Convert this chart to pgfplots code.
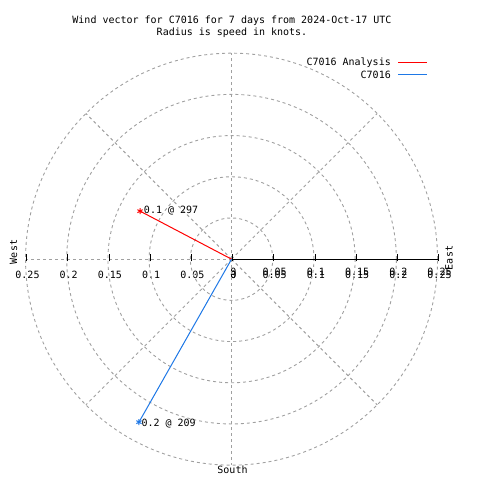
\documentclass[border=0pt]{standalone}
\usepackage{fontspec}
\setmainfont{DejaVu Sans Mono}
\usepackage{pgfplots}
\pgfplotsset{compat=1.18}
\definecolor{gridgray}{RGB}{160,160,160}
\definecolor{vblue}{RGB}{30,120,230}
\begin{document}
\fontsize{10}{12}\selectfont
\begin{tikzpicture}[x=1pt,y=1pt]
\useasboundingbox (0,0) rectangle (480,480);
% tick labels
\foreach \v/\t in {0/0,1/0.05,2/0.1,3/0.15,4/0.2,5/0.25} {
  \node[inner sep=0pt] at (233.5-41.2*\v,205) {\t};
  \node[inner sep=0pt] at (233.5+41.2*\v,205) {\t};
  \node[inner sep=0pt] at (233.5+41.2*\v,208.5) {\t};
}
\node[rotate=90, inner sep=0pt] at (13.5,228) {West};
\node[rotate=90, inner sep=0pt] at (449,222) {East};
\node[inner sep=0pt] at (232.5,10) {South};
% title
\node[inner sep=0pt] at (232,459.5) {Wind vector for C7016 for 7 days from 2024-Oct-17 UTC};
\node[inner sep=0pt] at (232,447) {Radius is speed in knots.};
% legend
\node[anchor=east, inner sep=0pt] at (391,417) {C7016 Analysis};
\node[anchor=east, inner sep=0pt] at (391,405) {C7016};
\draw[red, line width=1pt] (398,417) -- (427,417);
\draw[vblue, line width=1pt] (398,405) -- (427,405);
\begin{axis}[at={(31,18)}, anchor=south west, x=824pt, y=824pt,
  xmin=-0.25, xmax=0.25, ymin=-0.25, ymax=0.25, enlargelimits=false,
  hide axis, clip=false]
% polar grid
\begin{scope}[gridgray, line width=0.9pt, dash pattern=on 3pt off 3pt]
\draw (axis cs:0,0) circle[radius=41.2pt];
\draw (axis cs:0,0) circle[radius=82.4pt];
\draw (axis cs:0,0) circle[radius=123.6pt];
\draw (axis cs:0,0) circle[radius=164.8pt];
\draw (axis cs:0,0) circle[radius=206pt];
\draw (axis cs:0,0) -- (axis cs:0.17678,0.17678);
\draw (axis cs:0,0) -- (axis cs:0,0.25);
\draw (axis cs:0,0) -- (axis cs:-0.17678,0.17678);
\draw (axis cs:0,0) -- (axis cs:-0.25,0);
\draw (axis cs:0,0) -- (axis cs:-0.17678,-0.17678);
\draw (axis cs:0,0) -- (axis cs:0,-0.25);
\draw (axis cs:0,0) -- (axis cs:0.17678,-0.17678);
\end{scope}
% radial axis
\draw[black, line width=1pt] (axis cs:0,0) -- (axis cs:0.25,0);
\addplot[red, line width=1pt, mark=asterisk, mark size=3pt, mark indices={2}, data cs=polar]
  coordinates {(152.3,0) (152.3,0.1254)};
\addplot[vblue, line width=1pt, mark=asterisk, mark size=3pt, mark indices={2}, data cs=polar]
  coordinates {(240.4,0) (240.4,0.2275)};
\node[anchor=west, inner sep=0pt] at (axis cs:-0.1065,0.0585) {0.1 @ 297};
\node[anchor=west, inner sep=0pt] at (axis cs:-0.1095,-0.1990) {0.2 @ 209};
\end{axis}
% ticks
\foreach \i in {0,...,5} {
  \draw[black, line width=0.8pt] (232.5-41.2*\i,218.5) -- ++(0,7);
  \draw[black, line width=0.8pt] (232.5+41.2*\i,218.5) -- ++(0,7);
}
\end{tikzpicture}
\end{document}
